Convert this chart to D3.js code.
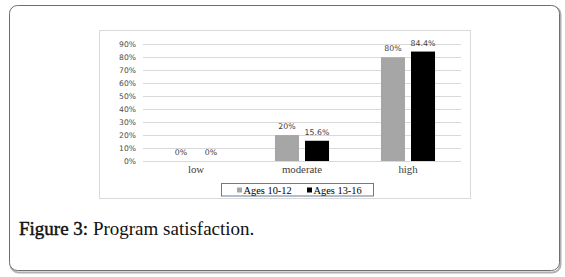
<!DOCTYPE html>
<html><head><meta charset="utf-8">
<script src="https://cdn.jsdelivr.net/npm/d3@7"></script>
<style>body{margin:0;background:#fff}svg{display:block}</style>
</head><body>
<script>
const categories = ["low", "moderate", "high"];
const seriesNames = ["Ages 10-12", "Ages 13-16"];
const ages10_12 = [0, 20, 80];
const ages13_16 = [0, 15.6, 84.4];
const valueLabels10_12 = ["0%", "20%", "80%"];
const valueLabels13_16 = ["0%", "15.6%", "84.4%"];
const yTicks = [0, 10, 20, 30, 40, 50, 60, 70, 80, 90];
const colors = ["#a6a6a6", "#000000"];

const W = 565, H = 277;
const svg = d3.select("body").append("svg").attr("width", W).attr("height", H);

// outer frame with shadow
svg.append("rect").attr("x", 10.5).attr("y", 6.5).attr("width", 550).attr("height", 266)
  .attr("rx", 8).attr("fill", "none").attr("stroke", "#b0b0b0").attr("stroke-width", 2);
svg.append("rect").attr("x", 9.5).attr("y", 5.5).attr("width", 550).attr("height", 265)
  .attr("rx", 8).attr("fill", "#fff").attr("stroke", "#6e6e6e").attr("stroke-width", 1);

// chart area box
svg.append("rect").attr("x", 99.5).attr("y", 30.5).attr("width", 371).attr("height", 168)
  .attr("fill", "#fff").attr("stroke", "#d9d9d9").attr("stroke-width", 1);

const x0 = d3.scaleBand().domain(categories).range([143, 461]).paddingInner(0.49).paddingOuter(0.245);
const x1 = d3.scaleBand().domain(seriesNames).range([0, x0.bandwidth()]).paddingInner(0.2);
const y = d3.scaleLinear().domain([0, 90]).range([161, 44.3]);

// gridlines
svg.append("g").selectAll("line").data(yTicks).join("line")
  .attr("x1", 143).attr("x2", 461)
  .attr("y1", d => Math.round(y(d)) + 0.5).attr("y2", d => Math.round(y(d)) + 0.5)
  .attr("stroke", "#d9d9d9").attr("stroke-width", 1);

// y axis labels
const yAxis = d3.axisLeft(y).tickValues(yTicks).tickFormat(d => d + "%").tickSize(0).tickPadding(0);
const ya = svg.append("g").attr("transform", "translate(136,0)").call(yAxis);
ya.select(".domain").remove();
ya.selectAll("text").attr("font-family", "DejaVu Sans").attr("font-size", 7.6)
  .attr("fill", "#4a4a4a").attr("dy", "0.35em");

// bars
const data = categories.map((c, i) => ({cat: c, vals: [
  {s: seriesNames[0], v: ages10_12[i], lab: valueLabels10_12[i], col: colors[0]},
  {s: seriesNames[1], v: ages13_16[i], lab: valueLabels13_16[i], col: colors[1]}
]}));
const g = svg.append("g").selectAll("g").data(data).join("g")
  .attr("transform", d => `translate(${x0(d.cat)},0)`);
g.selectAll("rect").data(d => d.vals).join("rect")
  .attr("x", d => x1(d.s)).attr("width", x1.bandwidth())
  .attr("y", d => y(d.v)).attr("height", d => y(0) - y(d.v))
  .attr("fill", d => d.col);
g.selectAll("text").data(d => d.vals).join("text")
  .attr("x", d => x1(d.s) + x1.bandwidth() / 2).attr("y", d => y(d.v) - 6)
  .attr("text-anchor", "middle").attr("font-family", "DejaVu Sans").attr("font-size", 7.8)
  .attr("fill", "#404040").text(d => d.lab);

// category axis
const xAxis = d3.axisBottom(x0).tickSize(0).tickPadding(0);
const xa = svg.append("g").attr("transform", "translate(0,165)").call(xAxis);
xa.select(".domain").remove();
xa.selectAll("text").attr("font-family", "Liberation Serif").attr("font-size", 10.8)
  .attr("fill", "#404040").attr("dy", "0.71em");

// legend
svg.append("rect").attr("x", 221.5).attr("y", 183.5).attr("width", 152).attr("height", 12.5)
  .attr("fill", "#fff").attr("stroke", "#6a7a94").attr("stroke-width", 1);
const legX = [237, 307];
const lg = svg.append("g").selectAll("g").data(seriesNames).join("g")
  .attr("transform", (d, i) => `translate(${legX[i]},0)`);
lg.append("rect").attr("x", 0).attr("y", 187.5).attr("width", 5).attr("height", 5)
  .attr("fill", (d, i) => colors[i]);
lg.append("text").attr("x", 6.5).attr("y", 193.5).attr("font-family", "Liberation Serif")
  .attr("font-size", 10.4).attr("fill", "#000").text(d => d);

// caption
const cap = svg.append("text").attr("x", 19).attr("y", 235).attr("font-family", "Liberation Serif")
  .attr("font-size", 19).attr("fill", "#111");
cap.append("tspan").attr("stroke", "#111").attr("stroke-width", 0.45).text("Figure 3:");
cap.append("tspan").text(" Program satisfaction.");
</script>
</body></html>
